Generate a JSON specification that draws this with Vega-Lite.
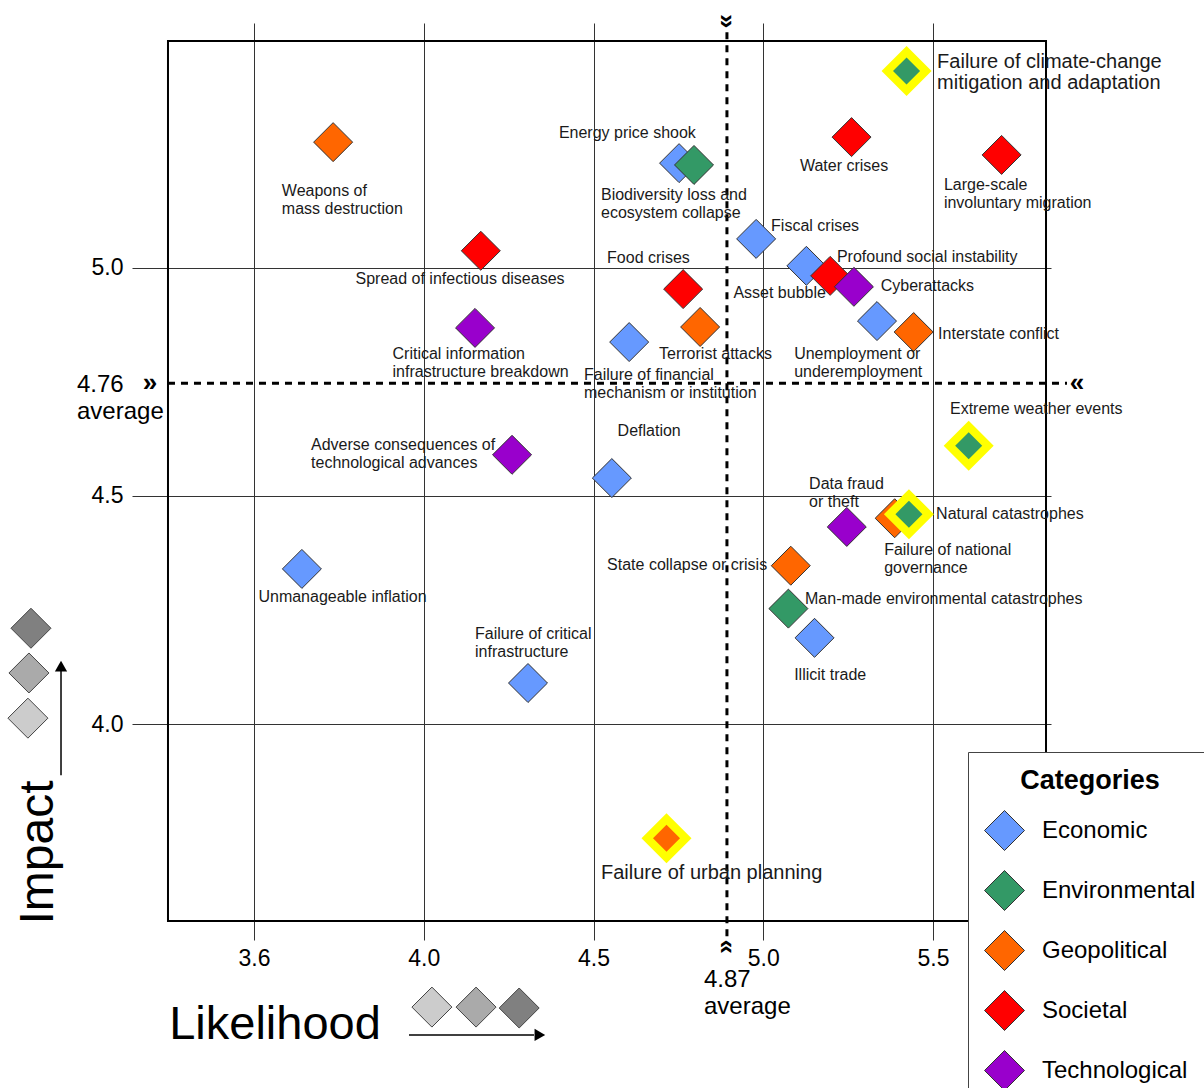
{
  "$schema": "https://vega.github.io/schema/vega-lite/v6.json",
  "description": "Global risks: likelihood against impact, by category.",
  "width": 919,
  "height": 917,
  "autosize": {"type": "none"},
  "padding": {"left": 132, "top": 23, "right": 153, "bottom": 148},
  "config": {
    "font": "Liberation Sans",
    "view": {"stroke": null},
    "axis": {
      "domain": false, "ticks": false, "grid": true,
      "gridColor": "#333", "gridWidth": 1,
      "labelFontSize": 23, "labelColor": "#000",
      "titleColor": "#000", "titleFontWeight": "normal", "titleFontSize": 48
    }
  },
  "datasets": {
    "risks": [
      {"label": "Weapons of\nmass destruction", "cat": "Geopolitical", "x": 3.733, "y": 5.275, "lx": 3.582, "ly": 5.168, "hl": false},
      {"label": "Energy price shook", "cat": "Economic", "x": 4.752, "y": 5.229, "lx": 4.398, "ly": 5.295, "hl": false},
      {"label": "Biodiversity loss and\necosystem collapse", "cat": "Environmental", "x": 4.796, "y": 5.225, "lx": 4.522, "ly": 5.159, "hl": false},
      {"label": "Water crises", "cat": "Societal", "x": 5.26, "y": 5.286, "lx": 5.108, "ly": 5.223, "hl": false},
      {"label": "Large-scale\ninvoluntary migration", "cat": "Societal", "x": 5.702, "y": 5.247, "lx": 5.532, "ly": 5.181, "hl": false},
      {"label": "Spread of infectious diseases", "cat": "Societal", "x": 4.168, "y": 5.037, "lx": 3.799, "ly": 4.975, "hl": false},
      {"label": "Fiscal crises", "cat": "Economic", "x": 4.979, "y": 5.063, "lx": 5.023, "ly": 5.091, "hl": false},
      {"label": "Food crises", "cat": "Societal", "x": 4.764, "y": 4.953, "lx": 4.54, "ly": 5.021, "hl": false},
      {"label": "Asset bubble", "cat": "Economic", "x": 5.127, "y": 5.004, "lx": 4.912, "ly": 4.944, "hl": false},
      {"label": "Profound social instability", "cat": "Societal", "x": 5.197, "y": 4.982, "lx": 5.217, "ly": 5.023, "hl": false},
      {"label": "Cyberattacks", "cat": "Technological", "x": 5.267, "y": 4.958, "lx": 5.346, "ly": 4.96, "hl": false},
      {"label": "Critical information\ninfrastructure breakdown", "cat": "Technological", "x": 4.151, "y": 4.868, "lx": 3.908, "ly": 4.811, "hl": false},
      {"label": "Failure of financial\nmechanism or institution", "cat": "Economic", "x": 4.605, "y": 4.837, "lx": 4.472, "ly": 4.765, "hl": false},
      {"label": "Terrorist attacks", "cat": "Geopolitical", "x": 4.814, "y": 4.87, "lx": 4.693, "ly": 4.811, "hl": false},
      {"label": "Unemployment or\nunderemployment", "cat": "Economic", "x": 5.335, "y": 4.883, "lx": 5.091, "ly": 4.811, "hl": false},
      {"label": "Interstate conflict", "cat": "Geopolitical", "x": 5.443, "y": 4.859, "lx": 5.515, "ly": 4.855, "hl": false},
      {"label": "Adverse consequences of\ntechnological advances", "cat": "Technological", "x": 4.26, "y": 4.59, "lx": 3.668, "ly": 4.612, "hl": false},
      {"label": "Deflation", "cat": "Economic", "x": 4.554, "y": 4.539, "lx": 4.571, "ly": 4.642, "hl": false},
      {"label": "Data fraud\nor theft", "cat": "Technological", "x": 5.246, "y": 4.432, "lx": 5.135, "ly": 4.526, "hl": false},
      {"label": "Failure of national\ngovernance", "cat": "Geopolitical", "x": 5.387, "y": 4.451, "lx": 5.356, "ly": 4.382, "hl": false},
      {"label": "Unmanageable inflation", "cat": "Economic", "x": 3.641, "y": 4.34, "lx": 3.513, "ly": 4.278, "hl": false},
      {"label": "State collapse or crisis", "cat": "Geopolitical", "x": 5.081, "y": 4.347, "lx": 4.54, "ly": 4.348, "hl": false},
      {"label": "Man-made environmental catastrophes", "cat": "Environmental", "x": 5.074, "y": 4.253, "lx": 5.123, "ly": 4.274, "hl": false},
      {"label": "Illicit trade", "cat": "Economic", "x": 5.151, "y": 4.189, "lx": 5.091, "ly": 4.107, "hl": false},
      {"label": "Failure of critical\ninfrastructure", "cat": "Economic", "x": 4.307, "y": 4.09, "lx": 4.151, "ly": 4.198, "hl": false},
      {"label": "Failure of climate-change\nmitigation and adaptation", "cat": "Environmental", "x": 5.422, "y": 5.431, "lx": 5.512, "ly": 5.4505, "hl": true},
      {"label": "Extreme weather events", "cat": "Environmental", "x": 5.605, "y": 4.61, "lx": 5.55, "ly": 4.69, "hl": true},
      {"label": "Natural catastrophes", "cat": "Environmental", "x": 5.429, "y": 4.46, "lx": 5.509, "ly": 4.46, "hl": true},
      {"label": "Failure of urban planning", "cat": "Geopolitical", "x": 4.715, "y": 3.75, "lx": 4.522, "ly": 3.674, "hl": true}
    ],
    "frame": [{"x": 3.2466, "x2": 5.8328, "y": 5.4967, "y2": 3.5684}],
    "averages": [
      {"line": "impact", "x": 3.2466, "x2": 5.8946, "y": 4.747, "y2": 4.747},
      {"line": "likelihood", "x": 4.893, "x2": 4.893, "y": 5.516, "y2": 3.527}
    ],
    "chevrons": [
      {"dir": "h", "glyph": "»", "x": 3.1936, "y": 4.747},
      {"dir": "h", "glyph": "«", "x": 5.924, "y": 4.747},
      {"dir": "v", "glyph": "»", "x": 4.893, "y": 5.54},
      {"dir": "v", "glyph": "«", "x": 4.893, "y": 3.512}
    ],
    "avglabels": [
      {"text": "4.76\naverage", "x": 2.9786, "y": 4.743},
      {"text": "4.87\naverage", "x": 4.8254, "y": 3.439}
    ],
    "icons": [
      {"x": 2.834, "y": 4.013, "level": 1},
      {"x": 2.837, "y": 4.112, "level": 2},
      {"x": 2.843, "y": 4.21, "level": 3},
      {"x": 4.024, "y": 3.38, "level": 1},
      {"x": 4.154, "y": 3.38, "level": 2},
      {"x": 4.281, "y": 3.378, "level": 3}
    ],
    "arrows": [
      {"x": 2.9315, "x2": 2.9315, "y": 3.888, "y2": 4.125},
      {"x": 3.9565, "x2": 4.3247, "y": 3.319, "y2": 3.319}
    ],
    "heads": [
      {"dir": "up", "x": 2.9315, "y": 4.127},
      {"dir": "right", "x": 4.342, "y": 3.319}
    ]
  },
  "encoding": {
    "x": {
      "field": "x", "type": "quantitative",
      "scale": {"domain": [3.1406, 5.8475], "nice": false, "zero": false},
      "axis": {
        "values": [3.5, 4, 4.5, 5, 5.5],
        "labelExpr": "datum.value == 3.5 ? '3.6' : format(datum.value, '.1f')",
        "labelPadding": 7,
        "title": "Likelihood", "titleX": 142.5, "titleY": 98,
        "titleAlign": "center", "titleBaseline": "alphabetic", "titleFontSize": 47
      }
    },
    "y": {
      "field": "y", "type": "quantitative",
      "scale": {"domain": [3.527, 5.536], "nice": false, "zero": false},
      "axis": {
        "values": [4, 4.5, 5], "format": ".1f",
        "labelPadding": 9,
        "title": "Impact", "titleX": -80, "titleY": 829, "titleAngle": -90,
        "titleAlign": "center", "titleBaseline": "alphabetic"
      }
    }
  },
  "layer": [
    {
      "data": {"name": "frame"},
      "mark": {"type": "rect", "fill": null, "stroke": "#000", "strokeWidth": 2},
      "encoding": {"x2": {"field": "x2"}, "y2": {"field": "y2"}}
    },
    {
      "data": {"name": "averages"},
      "mark": {"type": "rule", "color": "#000", "strokeWidth": 3, "strokeDash": [7, 6]},
      "encoding": {"x2": {"field": "x2"}, "y2": {"field": "y2"}}
    },
    {
      "data": {"name": "chevrons"},
      "transform": [{"filter": "datum.dir == 'h'"}],
      "mark": {"type": "text", "fontSize": 26, "fontWeight": "bold", "align": "center", "baseline": "middle", "color": "#000"},
      "encoding": {"text": {"field": "glyph"}}
    },
    {
      "data": {"name": "chevrons"},
      "transform": [{"filter": "datum.dir == 'v'"}],
      "mark": {"type": "text", "fontSize": 26, "fontWeight": "bold", "align": "center", "baseline": "middle", "angle": 90, "color": "#000"},
      "encoding": {"text": {"field": "glyph"}}
    },
    {
      "data": {"name": "avglabels"},
      "mark": {"type": "text", "fontSize": 24, "align": "left", "baseline": "middle", "lineBreak": "\n", "lineHeight": 27, "color": "#000"},
      "encoding": {"text": {"field": "text"}}
    },
    {
      "data": {"name": "arrows"},
      "mark": {"type": "rule", "color": "#000", "strokeWidth": 1.5},
      "encoding": {"x2": {"field": "x2"}, "y2": {"field": "y2"}}
    },
    {
      "data": {"name": "heads"},
      "mark": {"type": "point", "filled": true, "size": 150, "color": "#000", "opacity": 1},
      "encoding": {
        "shape": {"field": "dir", "type": "nominal", "scale": {"domain": ["up", "right"], "range": ["triangle-up", "triangle-right"]}, "legend": null}
      }
    },
    {
      "data": {"name": "icons"},
      "mark": {"type": "point", "shape": "diamond", "filled": true, "size": 1600, "stroke": "#444", "strokeWidth": 1, "opacity": 1},
      "encoding": {
        "fill": {"field": "level", "type": "ordinal", "scale": {"domain": [1, 2, 3], "range": ["#cccccc", "#aaaaaa", "#808080"]}, "legend": null}
      }
    },
    {
      "data": {"name": "risks"},
      "transform": [{"filter": "!datum.hl"}],
      "mark": {"type": "point", "shape": "diamond", "filled": true, "size": 1520, "stroke": "#333", "strokeWidth": 1, "opacity": 1},
      "encoding": {
        "color": {
          "field": "cat", "type": "nominal",
          "scale": {
            "domain": ["Economic", "Environmental", "Geopolitical", "Societal", "Technological"],
            "range": ["#6699ff", "#339966", "#ff6600", "#ff0000", "#9900cc"]
          },
          "legend": {
            "title": "Categories", "orient": "none", "legendX": 836, "legendY": 729,
            "direction": "vertical", "padding": 16,
            "strokeColor": "#444", "fillColor": "#fff",
            "titleFontSize": 27, "titleFontWeight": "bold", "titleColor": "#000",
            "titleAnchor": "middle", "titleAlign": "center", "titlePadding": 15,
            "labelFontSize": 24, "labelColor": "#000", "labelOffset": 17, "labelLimit": 300,
            "symbolType": "diamond", "symbolSize": 1600, "symbolStrokeColor": "#333",
            "symbolStrokeWidth": 1, "symbolOpacity": 1, "rowPadding": 15
          }
        }
      }
    },
    {
      "data": {"name": "risks"},
      "transform": [{"filter": "datum.hl"}],
      "mark": {"type": "point", "shape": "diamond", "filled": true, "size": 2500, "color": "#ffff00", "strokeWidth": 0, "opacity": 1}
    },
    {
      "data": {"name": "risks"},
      "transform": [{"filter": "datum.hl"}],
      "mark": {"type": "point", "shape": "diamond", "filled": true, "size": 730, "strokeWidth": 0, "opacity": 1},
      "encoding": {"color": {"field": "cat", "type": "nominal"}}
    },
    {
      "data": {"name": "risks"},
      "transform": [{"filter": {"not": {"field": "label", "oneOf": ["Failure of climate-change\nmitigation and adaptation", "Failure of urban planning"]}}}],
      "mark": {"type": "text", "fontSize": 16, "lineHeight": 18, "align": "left", "baseline": "middle", "lineBreak": "\n", "color": "#1a1a1a"},
      "encoding": {
        "x": {"field": "lx", "type": "quantitative"},
        "y": {"field": "ly", "type": "quantitative"},
        "text": {"field": "label"}
      }
    },
    {
      "data": {"name": "risks"},
      "transform": [{"filter": {"field": "label", "oneOf": ["Failure of climate-change\nmitigation and adaptation", "Failure of urban planning"]}}],
      "mark": {"type": "text", "fontSize": 20, "lineHeight": 21, "align": "left", "baseline": "middle", "lineBreak": "\n", "color": "#1a1a1a"},
      "encoding": {
        "x": {"field": "lx", "type": "quantitative"},
        "y": {"field": "ly", "type": "quantitative"},
        "text": {"field": "label"}
      }
    }
  ]
}
